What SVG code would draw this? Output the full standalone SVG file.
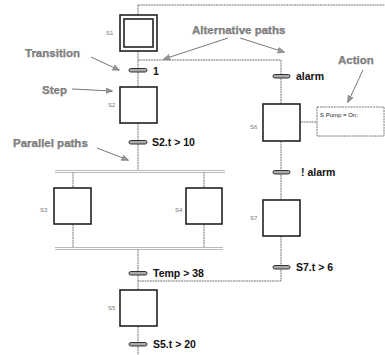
<svg xmlns="http://www.w3.org/2000/svg" width="385" height="355" viewBox="0 0 385 355">
<defs>
<marker id="ah" viewBox="0 0 10 10" refX="9" refY="5" markerWidth="7" markerHeight="7" orient="auto-start-reverse" markerUnits="userSpaceOnUse">
<path d="M0,1 L10,5 L0,9 z" fill="#999" stroke="#666" stroke-width="0.8"/>
</marker>
<style>
.step{fill:#fff;stroke:#222;stroke-width:1.6}
.ln{fill:none;stroke:#777;stroke-width:1;stroke-dasharray:2 0.6}
.par{fill:none;stroke:#aaa;stroke-width:0.8}
.bar{fill:#aaa;stroke:#333;stroke-width:1}
.ann{fill:none;stroke:#777;stroke-width:1;marker-end:url(#ah)}
.note{font-family:"Liberation Sans",Arial,sans-serif;font-size:11.5px;font-weight:bold;fill:#888;stroke:#555;stroke-width:0.25}
.cond{font-family:"Liberation Sans",Arial,sans-serif;font-size:10.5px;font-weight:bold;fill:#111}
.sl{font-family:"Liberation Sans",Arial,sans-serif;font-size:6px;fill:#777}
.act{font-family:"Liberation Sans",Arial,sans-serif;font-size:6px;fill:#222}
</style>
</defs>
<rect width="385" height="355" fill="#fff"/>
<g id="connectors">
<path class="ln" d="M138,5 H385 M138,5 V15 M138,51 V87 M138,60 H281 V104 M138,123 V171 M138,249 V290 M138,326 V355"/>
<path class="ln" d="M281,141 V200 M281,236 V281 H138"/>
<path class="ln" d="M73,172 V188 M73,224 V248 M204,172 V188 M204,224 V248"/>
<path class="ln" d="M301,122 H317"/>
<path class="par" d="M55,170.5 H225 M55,172.5 H225 M55,247.5 H223 M55,249.5 H223"/>
</g>
<g id="S1"><rect class="step" x="120" y="15" width="37" height="36"/><rect class="step" x="124" y="19" width="29" height="28"/><text class="sl" x="106" y="35">S1</text></g>
<g id="S2"><rect class="step" x="120" y="87" width="37" height="36"/><text class="sl" x="108" y="107">S2</text></g>
<g id="S3"><rect class="step" x="54" y="188" width="37" height="36"/><text class="sl" x="40" y="212">S3</text></g>
<g id="S4"><rect class="step" x="186" y="188" width="36" height="36"/><text class="sl" x="175" y="212">S4</text></g>
<g id="S6"><rect class="step" x="263" y="104" width="37" height="37"/><text class="sl" x="250" y="129">S6</text></g>
<g id="S7"><rect class="step" x="263" y="200" width="37" height="36"/><text class="sl" x="250" y="220">S7</text></g>
<g id="S5"><rect class="step" x="120" y="290" width="37" height="36"/><text class="sl" x="108" y="310">S5</text></g>
<g id="action"><rect x="317" y="107" width="67" height="29" fill="#fff" stroke="#777" stroke-width="1" stroke-dasharray="2 0.8"/><text class="act" x="320" y="117">S Pump = On;</text></g>
<g id="T1"><rect class="bar" x="129" y="68.5" width="18" height="3.5" rx="1.75"/><text class="cond" x="153" y="75">1</text></g>
<g id="T2"><rect class="bar" x="129" y="140.5" width="18" height="3.5" rx="1.75"/><text class="cond" x="152" y="146">S2.t &gt; 10</text></g>
<g id="T3"><rect class="bar" x="273" y="74.5" width="17" height="3.5" rx="1.75"/><text class="cond" x="296" y="80">alarm</text></g>
<g id="T4"><rect class="bar" x="273" y="170.5" width="17" height="3.5" rx="1.75"/><text class="cond" x="301" y="176">! alarm</text></g>
<g id="T5"><rect class="bar" x="273" y="265.5" width="17" height="3.5" rx="1.75"/><text class="cond" x="296" y="271">S7.t &gt; 6</text></g>
<g id="T6"><rect class="bar" x="129" y="271.5" width="18" height="3.5" rx="1.75"/><text class="cond" x="153" y="277">Temp &gt; 38</text></g>
<g id="T7"><rect class="bar" x="129" y="342.5" width="18" height="3.5" rx="1.75"/><text class="cond" x="153" y="348">S5.t &gt; 20</text></g>
<g id="annotations">
<text class="note" x="25" y="57">Transition</text>
<path class="ann" d="M91,57 L119,70"/>
<text class="note" x="42" y="94">Step</text>
<path class="ann" d="M72,89 L112,91"/>
<text class="note" x="13" y="147">Parallel paths</text>
<path class="ann" d="M97,148 L128,160"/>
<text class="note" x="192" y="34">Alternative paths</text>
<path class="ann" d="M228,38 L164,59"/>
<path class="ann" d="M240,38 L284,52"/>
<text class="note" x="338" y="64">Action</text>
<path class="ann" d="M363,70 L348,102"/>
</g>
</svg>
